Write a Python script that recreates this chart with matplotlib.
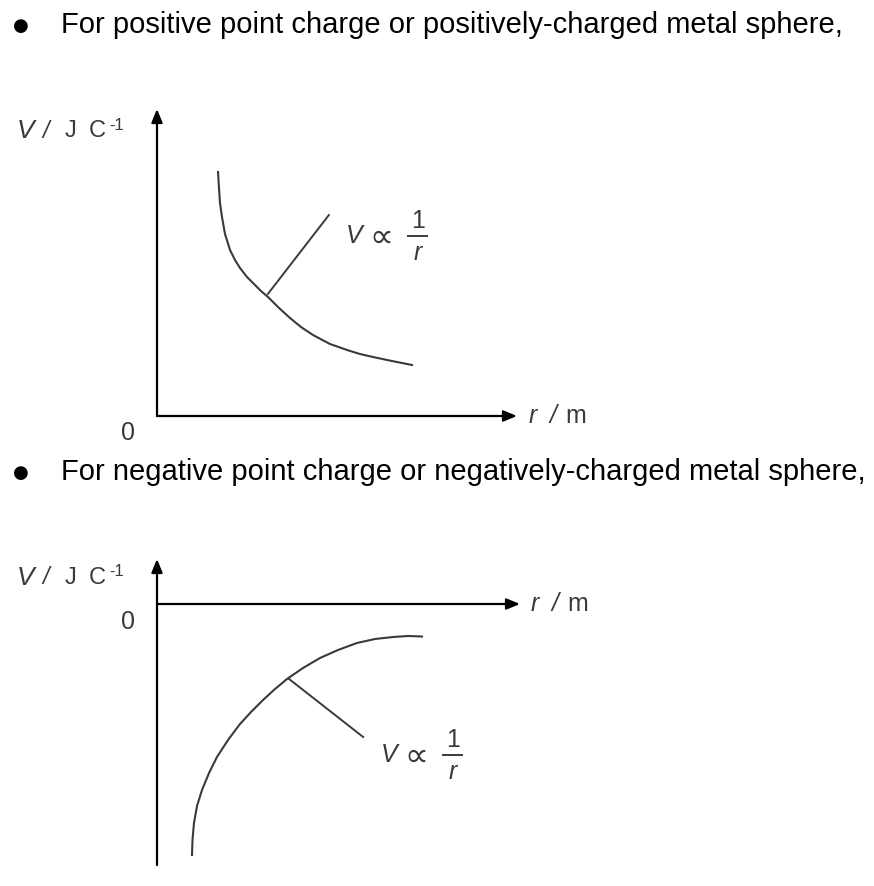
import matplotlib
matplotlib.use("Agg")
import matplotlib.pyplot as plt

plt.rcParams['font.family'] = ['Liberation Sans', 'DejaVu Sans']

# positive charge: V falls off as 1/r (arbitrary units)
r_pos = [1.743, 1.771, 1.800, 1.857, 1.943, 2.086, 2.229, 2.371, 2.571, 2.771, 2.971,
         3.171, 3.486, 3.800, 4.114, 4.457, 4.943, 5.429, 5.800, 6.171, 6.714, 7.286]
v_pos = [6.971, 6.514, 6.086, 5.686, 5.200, 4.743, 4.457, 4.229, 3.971, 3.771, 3.571,
         3.400, 3.086, 2.800, 2.543, 2.314, 2.057, 1.886, 1.771, 1.686, 1.571, 1.457]

# negative charge: V rises towards 0 as 1/r
r_neg = [1.000, 1.014, 1.057, 1.143, 1.286, 1.486, 1.714, 2.029, 2.371, 2.686, 3.029,
         3.371, 3.714, 4.171, 4.657, 5.171, 5.714, 6.229, 6.743, 7.171, 7.571]
v_neg = [-7.171, -6.743, -6.257, -5.771, -5.314, -4.829, -4.371, -3.886, -3.429, -3.086, -2.743,
         -2.429, -2.143, -1.829, -1.543, -1.314, -1.114, -1.000, -0.943, -0.914, -0.929]

# pointer lines from the curve to the "V ∝ 1/r" label
ptr_pos_r = [3.17, 4.91]
ptr_pos_v = [3.49, 5.74]
ptr_neg_r = [3.77, 5.89]
ptr_neg_v = [-2.14, -3.80]

title_pos = "For positive point charge or positively-charged metal sphere,"
title_neg = "For negative point charge or negatively-charged metal sphere,"

W, H = 874, 886
S = 35.0  # pixels per data unit
GREY = "#3a3a3a"
fig = plt.figure(figsize=(W / 100, H / 100), dpi=100)


def make_panel(x0, y0):
    # axes covering the whole figure, data origin at pixel (x0, y0)
    ax = fig.add_axes([0, 0, 1, 1])
    ax.set_xlim(-x0 / S, (W - x0) / S)
    ax.set_ylim(-(H - y0) / S, y0 / S)
    ax.axis('off')
    ax.patch.set_visible(False)
    return ax


def arrow(ax, x1, y1, x2, y2):
    ax.annotate("", xy=(x2, y2), xytext=(x1, y1),
                arrowprops=dict(arrowstyle="-|>,head_length=0.8,head_width=0.33",
                                color="black", lw=1.6, shrinkA=0, shrinkB=0))


def ylabel(ax, y):
    # pieces placed by pixel offset from the y axis (at x = 0)
    ax.text(-140 / S, y, "V", fontsize=19, style="italic", color=GREY, ha="left", va="center")
    ax.text(-115 / S, y, "/", fontsize=17, style="italic", color=GREY, ha="left", va="center")
    ax.text(-92 / S, y, "J", fontsize=17, color=GREY, ha="left", va="center")
    ax.text(-68 / S, y, "C", fontsize=17, color=GREY, ha="left", va="center")
    ax.text(-48 / S, y + 6 / S, "-1", fontsize=12, color=GREY, ha="left", va="center")


def xlabel(ax, x, y):
    ax.text(x, y, "r", fontsize=18, style="italic", color=GREY, ha="left", va="center")
    ax.text(x + 20 / S, y, "/", fontsize=18, style="italic", color=GREY, ha="left", va="center")
    ax.text(x + 36 / S, y, "m", fontsize=18, color=GREY, ha="left", va="center")


def prop_label(ax, x, y):
    ax.text(x, y, "V", fontsize=18, style="italic", color=GREY, ha="left", va="center")
    ax.text(x + 23 / S, y - 1 / S, "\u221d", fontsize=24, color=GREY,
            family="DejaVu Sans", ha="left", va="center")
    ax.text(x + 72 / S, y + 15 / S, "1", fontsize=18, color=GREY, ha="center", va="center")
    ax.plot([x + 62 / S, x + 81 / S], [y, y], color=GREY, lw=1.4)
    ax.text(x + 72 / S, y - 17 / S, "r", fontsize=18, style="italic",
            color=GREY, ha="center", va="center")


# header bullets
fig.text(21 / W, 1 - 26 / H, "\u25cf", fontsize=13, family="DejaVu Sans",
         ha="center", va="center")
fig.text(61 / W, 1 - 25 / H, title_pos, fontsize=21, ha="left", va="center")
fig.text(21 / W, 1 - 473 / H, "\u25cf", fontsize=13, family="DejaVu Sans",
         ha="center", va="center")
fig.text(61 / W, 1 - 472 / H, title_neg, fontsize=21, ha="left", va="center")

# top panel
ax1 = make_panel(157, 416)
arrow(ax1, 0, 0, 0, (416 - 109) / S)
arrow(ax1, 0, 0, (517 - 157) / S, 0)
ax1.plot(r_pos, v_pos, color=GREY, lw=1.5, solid_joinstyle="round")
ax1.plot(ptr_pos_r, ptr_pos_v, color=GREY, lw=1.4)
ylabel(ax1, (416 - 131) / S)
ax1.text(-29 / S, -17 / S, "0", fontsize=18, color=GREY, ha="center", va="center")
xlabel(ax1, (529 - 157) / S, 0)
prop_label(ax1, (346 - 157) / S, (416 - 236) / S)

# bottom panel
ax2 = make_panel(157, 604)
arrow(ax2, 0, (604 - 865) / S, 0, (604 - 559) / S)
arrow(ax2, 0, 0, (520 - 157) / S, 0)
ax2.plot(r_neg, v_neg, color=GREY, lw=1.5, solid_joinstyle="round")
ax2.plot(ptr_neg_r, ptr_neg_v, color=GREY, lw=1.4)
ylabel(ax2, (604 - 578) / S)
ax2.text(-29 / S, -18 / S, "0", fontsize=18, color=GREY, ha="center", va="center")
xlabel(ax2, (531 - 157) / S, 0)
prop_label(ax2, (381 - 157) / S, (604 - 755) / S)

fig.savefig("out.png", dpi=100, facecolor="white")
